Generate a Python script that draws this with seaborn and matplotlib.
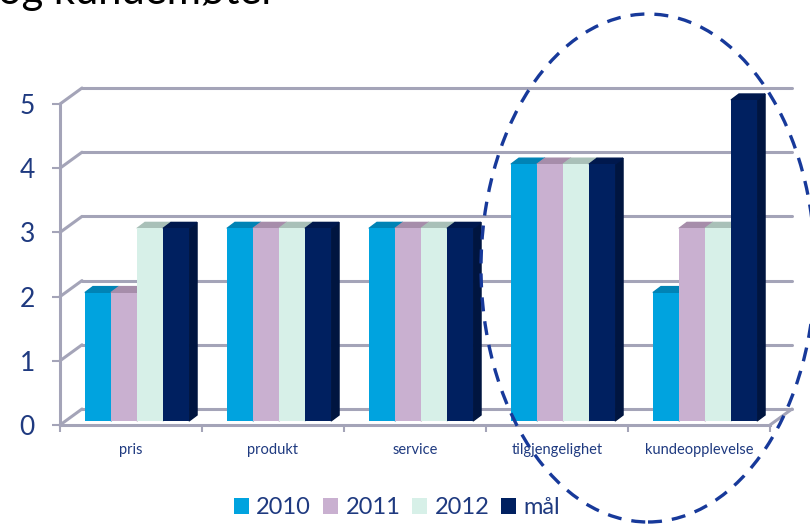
import numpy as np
import pandas as pd
import matplotlib
matplotlib.use("Agg")
import matplotlib.pyplot as plt
import matplotlib.transforms as mtrans
from matplotlib.patches import Patch, Polygon, Ellipse
import seaborn as sns

kategorier = ["pris", "produkt", "service", "tilgjengelighet", "kundeopplevelse"]
serier = ["2010", "2011", "2012", "mål"]
v2010 = [2, 3, 3, 4, 2]
v2011 = [2, 3, 3, 4, 3]
v2012 = [3, 3, 3, 4, 3]
vmal = [3, 3, 3, 4, 5]
yticks = [0, 1, 2, 3, 4, 5]

farger = ["#00A3DF", "#C9B0D0", "#D7F0E8", "#002060"]
topp = ["#0083B5", "#A68DAA", "#A9C0B8", "#00184D"]
side = ["#0089BD", "#AE93B0", "#B4CBC3", "#001540"]
navy = "#1F3A80"
grid = "#A4A4B8"

df = pd.DataFrame({
    "kategori": kategorier * 4,
    "serie": np.repeat(serier, len(kategorier)),
    "verdi": v2010 + v2011 + v2012 + vmal,
})

sns.set_style("white")
plt.rcParams["font.family"] = ["Lato", "DejaVu Sans"]

fig = plt.figure(figsize=(8.1, 5.26), dpi=100)
W, H = 810, 526
ax = fig.add_axes([60 / W, 1 - 425 / H, 710 / W, 321 / H])
ax.set_xlim(-0.5, 4.5)
ax.set_ylim(0, 5)

# back wall, shifted in pixels for the 3d look
back = mtrans.offset_copy(ax.transData, fig, x=22, y=16, units="dots")
for v in yticks:
    ax.plot([-0.5, 4.5], [v, v], color=grid, lw=2.2, transform=back, zorder=1, clip_on=False)
    p0 = ax.transData.transform((-0.5, v))
    p1 = back.transform((-0.5, v))
    ax.plot([p0[0], p1[0]], [p0[1], p1[1]], color=grid, lw=2.2,
            transform=None, zorder=1, clip_on=False)
p0 = ax.transData.transform((4.5, 0))
p1 = back.transform((4.5, 0))
ax.plot([p0[0], p1[0]], [p0[1], p1[1]], color=grid, lw=2.2, transform=None, zorder=2, clip_on=False)

sns.barplot(data=df, x="kategori", y="verdi", hue="serie", hue_order=serier,
            palette=farger, saturation=1, width=0.733, legend=False, ax=ax)

bar_tr = mtrans.offset_copy(ax.transData, fig, x=6, y=4, units="dots")
dx, dy = 8, 6
for i, p in enumerate(ax.patches[:len(df)]):
    s = i // len(kategorier)
    z = 3 + s * 0.1
    p.set_transform(bar_tr)
    p.set_edgecolor("none")
    p.set_clip_on(False)
    p.set_zorder(z + 0.05)
    x, w, h = p.get_x(), p.get_width(), p.get_height()
    a = bar_tr.transform((x, h))
    b = bar_tr.transform((x + w, h))
    c = bar_tr.transform((x + w, 0))
    top_pts = [a, b, b + (dx, dy), a + (dx, dy)]
    side_pts = [c, b, b + (dx, dy), c + (dx, dy)]
    ax.add_patch(Polygon(side_pts, closed=True, transform=None, color=side[s], zorder=z, clip_on=False))
    ax.add_patch(Polygon(top_pts, closed=True, transform=None, color=topp[s], zorder=z, clip_on=False))

for sp in ["top", "right"]:
    ax.spines[sp].set_visible(False)
for sp in ["left", "bottom"]:
    ax.spines[sp].set_color(grid)
    ax.spines[sp].set_linewidth(2.2)
    ax.spines[sp].set_zorder(4)

ax.set_yticks(yticks)
ax.set_yticklabels([str(v) for v in yticks])
ax.tick_params(axis="y", length=6, width=1.5, color=grid, labelsize=19,
               labelcolor=navy, pad=12, left=True)
ax.set_xticks(np.arange(-0.5, 5, 1))
ax.set_xticklabels([])
ax.set_xticks(range(len(kategorier)), minor=True)
ax.set_xticklabels(kategorier, minor=True)
ax.tick_params(axis="x", which="major", length=5, width=1.5, color=grid, bottom=True)
ax.tick_params(axis="x", which="minor", length=0, labelsize=10.5, labelcolor=navy, pad=13)
ax.set_xlabel("")
ax.set_ylabel("")
ax.grid(False)

# title fragment, cut by the top edge as in the slide
fig.text(-2 / W, 1 - 4 / H, "og kundemøter", fontsize=30, color="black",
         ha="left", va="baseline")

handles = [Patch(facecolor=c, edgecolor="none") for c in farger]
leg = fig.legend(handles, serier, loc="center", bbox_to_anchor=(397 / W, 1 - 508 / H),
                 ncol=4, frameon=False, fontsize=17, handlelength=0.65, handleheight=0.65,
                 handletextpad=0.3, columnspacing=0.5, borderpad=0)
for t in leg.get_texts():
    t.set_color(navy)

ell = Ellipse((648 / W, 1 - 268 / H), 334 / W, 508 / H, transform=fig.transFigure,
              fill=False, edgecolor="#17399A", lw=2.4, linestyle=(0, (4.2, 3.0)), zorder=10)
fig.patches.append(ell)

fig.savefig("out.png", dpi=100)
